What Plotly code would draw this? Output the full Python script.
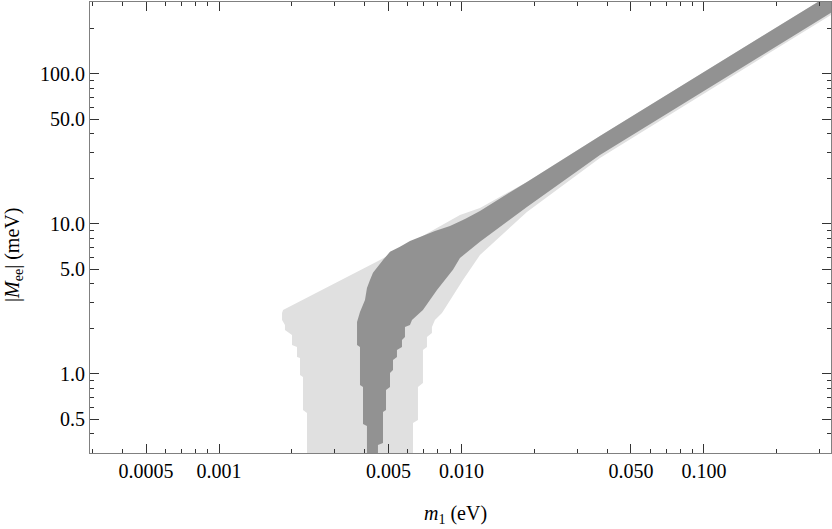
import plotly.graph_objects as go

# Dark band: outline of |M_ee| vs m1 (m1 in eV, |M_ee| in meV), clockwise
dark_m1 = [0.400, 0.2952, 0.03725, 0.01862, 0.01192, 0.01034, 0.008966, 0.007772,
           0.006936, 0.006132, 0.005577, 0.005073, 0.004746, 0.004525, 0.004315,
           0.004195, 0.004076, 0.004000, 0.003815, 0.003709, 0.003709,
           0.003815, 0.003815, 0.003926, 0.003926, 0.004076, 0.004076,
           0.004525, 0.004525, 0.004746, 0.004746, 0.004884, 0.004884, 0.005073,
           0.005073, 0.005219, 0.005219, 0.005420, 0.005420, 0.005684, 0.005684,
           0.005848, 0.005848, 0.006132, 0.006250, 0.006936, 0.007925, 0.009224,
           0.009858, 0.01192, 0.01862, 0.03725, 0.3340, 0.400]
dark_mee = [408, 302, 38.6, 19.05, 12.2, 10.8, 9.70, 8.98,
            8.32, 7.70, 7.03, 6.51, 5.75, 5.25, 4.72,
            4.23, 3.745, 3.115, 2.591, 2.222, 1.561,
            1.514, 0.845, 0.819, 0.464, 0.450, 0.2,
            0.2, 0.336, 0.347, 0.558, 0.575, 0.782, 0.819,
            1.015, 1.063, 1.240, 1.298, 1.445, 1.514, 1.686,
            1.765, 2.057, 2.122, 2.291, 2.672, 3.63, 4.94,
            5.93, 7.59, 12.98, 28.8, 255, 305]

# Light region: wider allowed area, clockwise
light_m1 = [0.400, 0.2952, 0.03725, 0.01862, 0.01192, 0.009858, 0.004613, 0.001837,
            0.001820, 0.001820, 0.001871, 0.001871, 0.002000, 0.002000, 0.002098,
            0.002098, 0.002158, 0.002158, 0.002220, 0.002220, 0.002307, 0.002307,
            0.006310, 0.006310, 0.006615, 0.006615, 0.006936, 0.006936, 0.007204,
            0.007204, 0.007554, 0.007554, 0.007772, 0.008310, 0.008966, 0.01014,
            0.01192, 0.01862, 0.03725, 0.3340, 0.400]
light_mee = [408, 302, 38.6, 19.05, 12.78, 11.48, 5.75, 2.672,
             2.551, 2.291, 2.122, 1.965, 1.820, 1.561, 1.514,
             1.298, 1.278, 0.985, 0.955, 0.575, 0.550, 0.2,
             0.2, 0.471, 0.494, 0.819, 0.871, 1.445, 1.514,
             1.765, 1.876, 2.057, 2.291, 2.551, 3.115, 4.23,
             6.21, 12.02, 27.5, 247, 296]

x_major = [0.0005, 0.001, 0.005, 0.01, 0.05, 0.1]
x_major_text = ["0.0005", "0.001", "0.005", "0.010", "0.050", "0.100"]
x_minor = [0.0003, 0.0004, 0.0006, 0.0007, 0.0008, 0.0009, 0.002, 0.003, 0.004,
           0.006, 0.007, 0.008, 0.009, 0.02, 0.03, 0.04, 0.06, 0.07, 0.08, 0.09,
           0.2, 0.3]
y_major = [0.5, 1.0, 5.0, 10.0, 50.0, 100.0]
y_major_text = ["0.5", "1.0", "5.0", "10.0", "50.0", "100.0"]
y_minor = [0.3, 0.4, 0.6, 0.7, 0.8, 0.9, 2, 3, 4, 6, 7, 8, 9, 20, 30, 40,
           60, 70, 80, 90, 200, 300]

LIGHT = "#e0e0e0"
DARK = "#929292"
FRAME = "#808080"
FONT = "Liberation Serif"

fig = go.Figure()
fig.add_trace(go.Scatter(x=light_m1, y=light_mee, mode="lines", fill="toself",
                         fillcolor=LIGHT, line=dict(width=0, color=LIGHT),
                         hoverinfo="skip", showlegend=False))
fig.add_trace(go.Scatter(x=dark_m1, y=dark_mee, mode="lines", fill="toself",
                         fillcolor=DARK, line=dict(width=0, color=DARK),
                         hoverinfo="skip", showlegend=False))

axis_common = dict(type="log", showgrid=False, zeroline=False, showline=True,
                   linecolor=FRAME, linewidth=1, mirror="ticks", ticks="inside",
                   ticklen=9, tickcolor="#333333", tickwidth=1, automargin=False,
                   tickfont=dict(family=FONT, size=20, color="black"))

fig.update_xaxes(range=[-3.532, -0.476], tickmode="array", tickvals=x_major,
                 ticktext=x_major_text,
                 minor=dict(tickmode="array", tickvals=x_minor, ticks="inside",
                            ticklen=4, tickcolor="#333333", showgrid=False),
                 **axis_common)
fig.update_yaxes(range=[-0.527, 2.479], tickmode="array", tickvals=y_major,
                 ticktext=y_major_text,
                 minor=dict(tickmode="array", tickvals=y_minor, ticks="inside",
                            ticklen=4, tickcolor="#333333", showgrid=False),
                 **axis_common)

fig.update_layout(
    width=832, height=529,
    margin=dict(l=90, r=1, t=2, b=76),
    paper_bgcolor="white", plot_bgcolor="white",
    font=dict(family=FONT, size=20, color="black"),
    annotations=[
        dict(text="<i>m</i><sub>1</sub> (eV)", xref="paper", yref="paper",
             x=0.4926, y=-0.137, xanchor="center", yanchor="middle",
             showarrow=False, font=dict(family=FONT, size=20)),
        dict(text="|<i>M</i><sub>ee</sub>| (meV)", xref="paper", yref="paper",
             x=-0.104, y=0.439, xanchor="center", yanchor="middle",
             textangle=-90, showarrow=False, font=dict(family=FONT, size=20)),
    ],
)

fig.write_html("out.html", config={"displayModeBar": False},
               post_script="document.body.style.margin='0';"
                           "document.body.style.overflow='hidden';")
